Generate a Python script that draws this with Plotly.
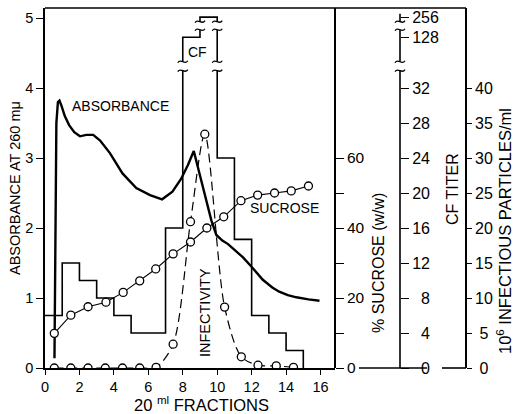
import plotly.graph_objects as go

# ---------------- data ----------------
# CF titer step histogram: value of each 20 ml fraction starting at the left edge
cf_edges = [0, 1, 2, 3, 4, 5, 6, 7, 8, 9, 10, 11, 12, 13, 14, 15]
cf_titer = [6, 12, 10, 8, 6, 4, 4, 16, 128, 256, 24, 14.7, 6, 4, 2, 0]

# absorbance at 260 mu (continuous trace)
abs_x = [0.55, 0.66, 0.75, 0.84, 0.95, 1.15, 1.4, 1.7, 2.03, 2.4, 2.8, 3.2, 3.77,
         4.5, 5.3, 6.1, 6.8, 7.4, 7.9, 8.3, 8.64, 9.18, 9.66, 9.95, 10.3, 10.63,
         11.1, 11.5, 11.98, 12.65, 13.2, 13.6, 14.1, 14.6, 15.3, 15.94]
abs_y = [0.14, 3.5, 3.8, 3.82, 3.75, 3.6, 3.47, 3.37, 3.31, 3.33, 3.33, 3.25, 3.07,
         2.78, 2.57, 2.47, 2.41, 2.52, 2.70, 2.90, 3.10, 2.59, 2.11, 1.90, 1.82, 1.77,
         1.66, 1.58, 1.45, 1.26, 1.15, 1.09, 1.04, 1.01, 0.98, 0.96]

# % sucrose (w/w)
suc_x = [0.54, 1.5, 2.5, 3.54, 4.54, 5.5, 6.43, 7.44, 8.45, 9.4, 10.38, 11.38,
         12.35, 13.33, 14.3, 15.3]
suc_y = [9.9, 15.1, 17.5, 18.8, 21.6, 24.9, 28.3, 32.6, 36.0, 40.0, 43.2, 47.8,
         49.4, 50.0, 50.6, 52.0]

# infectivity, 10^6 infectious particles / ml
inf_x = [0.54, 1.5, 2.5, 3.5, 4.5, 5.5, 6.45, 7.44, 8.45, 9.28, 10.43, 11.4,
         12.37, 13.43, 14.43]
inf_y = [0, 0, 0, 0, 0, 0, 0.1, 3.4, 20.9, 33.4, 8.7, 1.6, 0.4, 0.3, 0.1]

# tick values / labels
x_ticks = [0, 2, 4, 6, 8, 10, 12, 14, 16]
abs_ticks = [0, 1, 2, 3, 4, 5]
suc_ticks = [0, 10, 20, 30, 40, 50, 60]
suc_labels = ["0", "", "20", "", "40", "", "60"]
cf_ticks = [0, 4, 8, 12, 16, 20, 24, 28, 32]
cf_break_ticks = [128, 256]
inf_ticks = [0, 5, 10, 15, 20, 25, 30, 35, 40]

# ---------------- geometry ----------------
W, H = 516, 414
L, R, T, B = 45, 466, 8, 368
PW, PH = R - L, B - T
X_RIGHT_PX = 335
X_PER = 17.22          # px per fraction
A_PER = 70.0           # px per absorbance unit
CF_PER = 8.75          # px per CF titer unit (linear part)
INF_PER = 7.0          # px per 10^6 particles

X_MAX = (X_RIGHT_PX - L) / X_PER
ABS_MAX = PH / A_PER
SUC_MAX = ABS_MAX * 20
CF_MAX = PH / CF_PER
INF_MAX = PH / INF_PER

# broken CF axis: positions of the values above the break
BREAK_POS = {128: 37.8, 256: 40.1}


def cf_axis(v):
    return BREAK_POS.get(v, v)


def px_x(p):
    return (p - L) / PW


def px_y(p):
    return (B - p) / PH


FONT = "Liberation Sans, Arial, sans-serif"
BLK = "black"

fig = go.Figure()

fig.add_trace(go.Scatter(
    x=cf_edges, y=[cf_axis(v) for v in cf_titer], yaxis="y3",
    mode="lines", line=dict(color=BLK, width=1.6, shape="hv"),
    hoverinfo="skip", showlegend=False))

fig.add_trace(go.Scatter(
    x=abs_x, y=abs_y, mode="lines",
    line=dict(color=BLK, width=2.4), hoverinfo="skip", showlegend=False))

fig.add_trace(go.Scatter(
    x=suc_x, y=suc_y, yaxis="y2", mode="lines+markers",
    line=dict(color=BLK, width=1.1),
    marker=dict(symbol="circle", size=8, color="white", line=dict(color=BLK, width=1.3)),
    hoverinfo="skip", showlegend=False))

fig.add_trace(go.Scatter(
    x=inf_x, y=inf_y, yaxis="y4", mode="lines+markers",
    line=dict(color=BLK, width=1.2, dash="9px,5px", shape="spline", smoothing=0.8),
    marker=dict(symbol="circle", size=8, color="white", line=dict(color=BLK, width=1.3)),
    hoverinfo="skip", showlegend=False))

shapes = []
# top frame
shapes.append(dict(type="line", xref="paper", yref="paper", x0=0, x1=1, y0=1, y1=1,
                   line=dict(color=BLK, width=1.6)))
# bottom base line continuation between the right axes
for a, b in [(359, 427), (442, R)]:
    shapes.append(dict(type="line", xref="paper", yref="paper", x0=px_x(a), x1=px_x(b),
                       y0=0, y1=0, line=dict(color=BLK, width=1.6)))

# CF axis drawn with its breaks
CF_X = px_x(400)
gap_lo = (33.98, 35.0)
gap_hi = (38.66, 39.58)
cf_top = 40.5
for a, b in [(0, gap_lo[0]), (gap_lo[1], gap_hi[0]), (gap_hi[1], cf_top)]:
    shapes.append(dict(type="line", xref="paper", yref="y3", x0=CF_X, x1=CF_X, y0=a, y1=b,
                       line=dict(color=BLK, width=1.6)))


def tilde(xc, yc, xref, yref, ux, uy):
    p = (f"M {xc-5*ux},{yc-1*uy} C {xc-2*ux},{yc+4*uy} {xc+2*ux},{yc-4*uy} "
         f"{xc+5*ux},{yc+1*uy}")
    return dict(type="path", xref=xref, yref=yref, path=p, layer="above",
                line=dict(color=BLK, width=1.3))


for yb in [gap_lo[0], gap_lo[1], gap_hi[0], gap_hi[1]]:
    shapes.append(tilde(CF_X, yb, "paper", "y3", 1 / PW, 1 / CF_PER))

# breaks on the step verticals
step_breaks = [(8, gap_lo), (9, gap_hi), (10, gap_hi), (10, gap_lo)]
for xv, (g0, g1) in step_breaks:
    shapes.append(dict(type="rect", xref="x", yref="y3", x0=xv - 0.3, x1=xv + 0.3,
                       y0=g0, y1=g1, fillcolor="white", line=dict(width=0), layer="above"))
    shapes.append(tilde(xv, g0, "x", "y3", 1 / X_PER, 1 / CF_PER))
    shapes.append(tilde(xv, g1, "x", "y3", 1 / X_PER, 1 / CF_PER))

NB = "\u00a0"


def pad(s, n):
    return NB * (2 * (n - len(s))) + s


cf_tickvals = cf_ticks + [cf_axis(v) for v in cf_break_ticks]
cf_ticktext = [pad(str(v), 2) for v in cf_ticks] + [str(v) for v in cf_break_ticks]
inf_ticktext = [(NB + str(v)) if v < 10 else str(v) for v in inf_ticks]


def tf(size):
    return dict(family=FONT, size=size, color=BLK)


common = dict(showgrid=False, zeroline=False, automargin=False,
              tickwidth=1.4, tickcolor=BLK, ticks="outside")

fig.update_layout(
    width=W, height=H,
    margin=dict(l=L, r=W - R, t=T, b=H - B, autoexpand=False),
    paper_bgcolor="white", plot_bgcolor="white",
    showlegend=False, hovermode=False,
    font=dict(family=FONT, color=BLK, size=14),
    xaxis=dict(domain=[0, px_x(X_RIGHT_PX)], range=[0, X_MAX], tickvals=x_ticks,
               ticklen=5, showline=True, linecolor=BLK, linewidth=1.6,
               tickfont=tf(14.5), **common),
    yaxis=dict(range=[0, ABS_MAX], tickvals=abs_ticks, ticklen=7,
               showline=True, linecolor=BLK, linewidth=1.6, tickfont=tf(14.5), **common),
    yaxis2=dict(overlaying="y", anchor="free", position=px_x(X_RIGHT_PX), side="right",
                range=[0, SUC_MAX], tickvals=suc_ticks, ticktext=suc_labels, ticklen=8,
                showline=True, linecolor=BLK, linewidth=1.6, tickfont=tf(15.5), **common),
    yaxis3=dict(overlaying="y", anchor="free", position=CF_X, side="right",
                range=[0, CF_MAX], tickvals=cf_tickvals, ticktext=cf_ticktext, ticklen=8,
                showline=False, tickfont=tf(16), **common),
    yaxis4=dict(overlaying="y", anchor="free", position=1.0, side="right",
                range=[0, INF_MAX], tickvals=inf_ticks, ticktext=inf_ticktext, ticklen=5,
                showline=True, linecolor=BLK, linewidth=1.6, tickfont=tf(16), **common),
    shapes=shapes,
)

ann = []


def add_text(text, px, py, size=14, angle=0):
    ann.append(dict(text=text, xref="paper", yref="paper", x=px_x(px), y=px_y(py),
                    xanchor="center", yanchor="middle", showarrow=False,
                    textangle=angle, font=dict(family=FONT, size=size, color=BLK)))


add_text("ABSORBANCE AT 260 m\u03bc", 15, 188, 14.5, -90)
add_text("20 <sup>ml</sup> FRACTIONS", 201, 404, 16.5)
add_text("% SUCROSE (w/w)", 378, 263, 16, -90)
add_text("CF TITER", 452, 189, 16, -90)
add_text("10<sup>6</sup> INFECTIOUS PARTICLES/ml", 504, 231, 16.5, -90)
add_text("ABSORBANCE", 120, 106, 14)
add_text("CF", 197, 52, 14)
add_text("SUCROSE", 284, 208, 14)
add_text("INFECTIVITY", 205, 313, 14.5, -90)

fig.update_layout(annotations=ann)

fig.write_html("out.html", config=dict(displayModeBar=False),
               post_script="document.body.style.margin='0';")
